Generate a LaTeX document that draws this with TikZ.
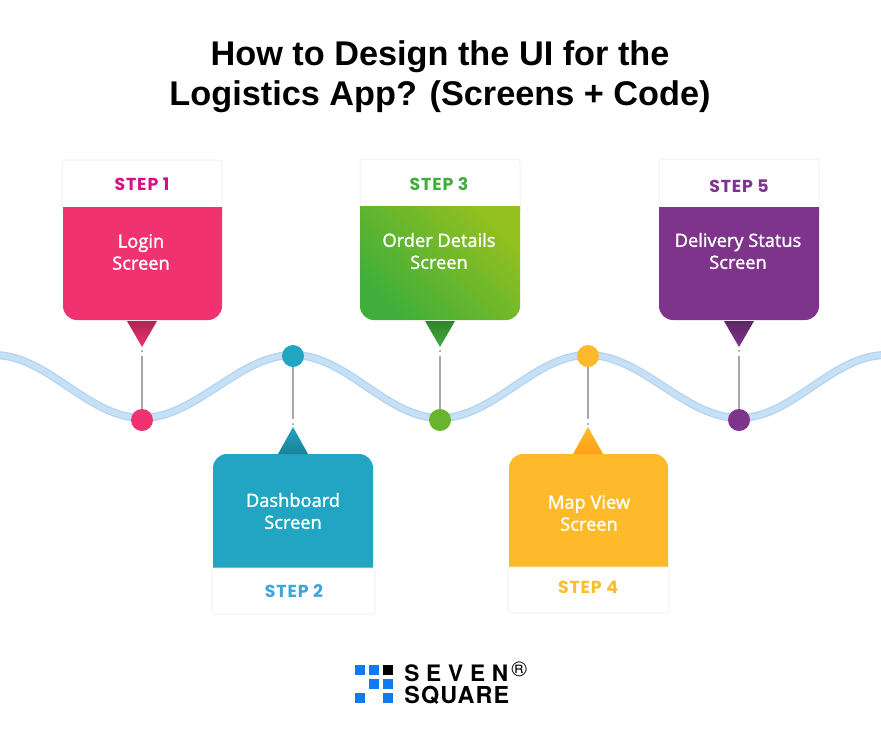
\documentclass[tikz,border=0pt]{standalone}
\usepackage{fontspec}
\setmainfont{Open Sans}
\newfontfamily\titlefont{Liberation Sans}
\newfontfamily\stepfont{Poppins}
\newfontfamily\logofont{TeX Gyre Heros}
\definecolor{pinkbody}{HTML}{F03370}
\definecolor{tealbody}{HTML}{22A5C3}
\definecolor{greenbody}{HTML}{62B22E}
\definecolor{greendot}{HTML}{6AB42D}
\definecolor{amberbody}{HTML}{FEBA2A}
\definecolor{purplebody}{HTML}{7F348C}
\definecolor{pinkstep}{HTML}{D80F84}
\definecolor{tealstep}{HTML}{3DA5D9}
\definecolor{greenstep}{HTML}{3FAE3A}
\definecolor{greenlight}{HTML}{93C01F}
\definecolor{amberstep}{HTML}{FBBC2E}
\definecolor{logoblue}{HTML}{0F7BEE}
\definecolor{waveedge}{HTML}{B4D4EF}
\definecolor{wavecolor}{HTML}{C6E0F6}
\definecolor{stemgray}{HTML}{A8A8A8}
\tikzset{
    header/.style = {fill=white, draw=black!5, line width=0.75pt, rounded corners=2pt},
    bodytext/.style = {text=white, font=\fontsize{13.7}{16.5}\selectfont\addfontfeature{FakeBold=1.5}, align=center, inner sep=0pt},
    steptext/.style = {font=\fontsize{13}{14}\stepfont\bfseries\addfontfeature{LetterSpace=5}, inner sep=0pt},
    stem/.style = {draw=stemgray, line width=1.4pt},
    tipdot/.style = {circle, fill=black!45, minimum size=1.5pt, inner sep=0pt},
    stepdot/.style = {circle, minimum size=16.5pt, inner sep=0pt},
    logosquare/.style = {fill=logoblue, minimum size=7.5pt, inner sep=0pt}
}

\begin{document}
\begin{tikzpicture}[x=0.75pt, y=-0.75pt]
    \pgfmathsetmacro{\bend}{54}  % handle of the wave, units of pixels
    \useasboundingbox (0,0) rectangle (881,739);
    \fill[white] (0,0) rectangle (881,739);

    % title
    \node[font=\fontsize{25.7}{30}\titlefont\bfseries, align=center, inner sep=0pt] (title) at (440,77)
        {How to Design the UI for the\\Logistics App? (Screens + Code)};

    % wave
    \coordinate (W0) at (-6,355);
    \coordinate (W1) at (142,418);
    \coordinate (W2) at (293,355);
    \coordinate (W3) at (440,418);
    \coordinate (W4) at (588,355);
    \coordinate (W5) at (739,418);
    \coordinate (W6) at (886,355);
    \draw[draw=waveedge, line width=6pt, postaction={draw=wavecolor, line width=4pt}] (W0)
        .. controls +(\bend,0) and +(-\bend,0) .. (W1)
        .. controls +(\bend,0) and +(-\bend,0) .. (W2)
        .. controls +(\bend,0) and +(-\bend,0) .. (W3)
        .. controls +(\bend,0) and +(-\bend,0) .. (W4)
        .. controls +(\bend,0) and +(-\bend,0) .. (W5)
        .. controls +(\bend,0) and +(-\bend,0) .. (W6);

    % step 1
    \draw[header] (62,160) rectangle (222,214);
    \fill[pinkbody] (63,207) [rounded corners=10.5pt] -- (63,320) -- (222,320) [sharp corners] -- (222,207) -- cycle;
    \shade[top color=pinkbody!72!black, bottom color=pinkbody] (127,321) -- (157,321) -- (142,347) -- cycle;
    \node[steptext, text=pinkstep] (steplabel1) at (142,184) {STEP 1};
    \node[bodytext] (screen1) at (141,252) {Login\\Screen};

    % step 2
    \fill[tealbody] (213,568) [rounded corners=10.5pt] -- (213,454) -- (373,454) [sharp corners] -- (373,568) -- cycle;
    \shade[top color=tealbody, bottom color=tealbody!78!black] (278,454) -- (308,454) -- (293,427) -- cycle;
    \draw[header] (212,568) rectangle (375,614);
    \node[steptext, text=tealstep] (steplabel2) at (294,591) {STEP 2};
    \node[bodytext] (screen2) at (293,511) {Dashboard\\Screen};

    % step 3
    \draw[header] (360,159) rectangle (520,214);
    \shade[left color=greenstep, middle color=greenbody, right color=greenlight, shading angle=135]
        (360,206) [rounded corners=10.5pt] -- (360,320) -- (520,320) [sharp corners] -- (520,206) -- cycle;
    \shade[top color=greenstep!75!black, bottom color=greenstep] (425,321) -- (455,321) -- (440,347) -- cycle;
    \node[steptext, text=greenstep] (steplabel3) at (439,184) {STEP 3};
    \node[bodytext] (screen3) at (439,251) {Order Details\\Screen};

    % step 4
    \fill[amberbody] (509,567) [rounded corners=10.5pt] -- (509,454) -- (668,454) [sharp corners] -- (668,567) -- cycle;
    \shade[top color=amberbody, bottom color=orange!45!amberbody] (573,454) -- (603,454) -- (588,427) -- cycle;
    \draw[header] (508,567) rectangle (669,613);
    \node[steptext, text=amberstep] (steplabel4) at (588,587) {STEP 4};
    \node[bodytext] (screen4) at (589,513) {Map View\\Screen};

    % step 5
    \draw[header] (659,159) rectangle (819,214);
    \fill[purplebody] (659,207) [rounded corners=10.5pt] -- (659,320) -- (819,320) [sharp corners] -- (819,207) -- cycle;
    \shade[top color=purplebody!72!black, bottom color=purplebody] (724,321) -- (754,321) -- (739,347) -- cycle;
    \node[steptext, text=purplebody] (steplabel5) at (739,186) {STEP 5};
    \node[bodytext] (screen5) at (738,251) {Delivery Status\\Screen};

    % stems, dots on the wave
    \node[tipdot] (tip1) at (142,351) {};
    \node[tipdot] (tip2) at (293,424) {};
    \node[tipdot] (tip3) at (440,351) {};
    \node[tipdot] (tip4) at (588,424) {};
    \node[tipdot] (tip5) at (739,351) {};
    \node[stepdot, fill=pinkbody] (dot1) at (142,420) {};
    \node[stepdot, fill=tealbody] (dot2) at (293,356) {};
    \node[stepdot, fill=greendot] (dot3) at (440,420) {};
    \node[stepdot, fill=amberbody] (dot4) at (588,356) {};
    \node[stepdot, fill=purplebody] (dot5) at (739,420) {};
    \draw[stem] (dot1) -- ([yshift=-3pt]tip1.south);
    \draw[stem] (dot2) -- ([yshift=3pt]tip2.north);
    \draw[stem] (dot3) -- ([yshift=-3pt]tip3.south);
    \draw[stem] (dot4) -- ([yshift=3pt]tip4.north);
    \draw[stem] (dot5) -- ([yshift=-3pt]tip5.south);

    % logo
    \node[logosquare] (sq1) at (360,670) {};
    \node[logosquare] (sq2) at (374,670) {};
    \node[logosquare, fill=black] (sq3) at (388,670) {};
    \node[logosquare] (sq4) at (374,684) {};
    \node[logosquare] (sq5) at (388,684) {};
    \node[logosquare] (sq6) at (360,698) {};
    \node[logosquare] (sq7) at (388,698) {};
    \node[anchor=west, inner sep=0pt, font=\fontsize{17}{18}\logofont\bfseries\addfontfeature{LetterSpace=30}] (seven) at (404,673) {SEVEN};
    \node[anchor=west, inner sep=0pt, font=\fontsize{17.5}{18}\logofont\bfseries\addfontfeature{LetterSpace=5}] (square) at (404,695) {SQUARE};
    \node[anchor=west, inner sep=0pt, font=\fontsize{16}{16}\logofont] (regmark) at (511,669) {®};
\end{tikzpicture}
\end{document}
